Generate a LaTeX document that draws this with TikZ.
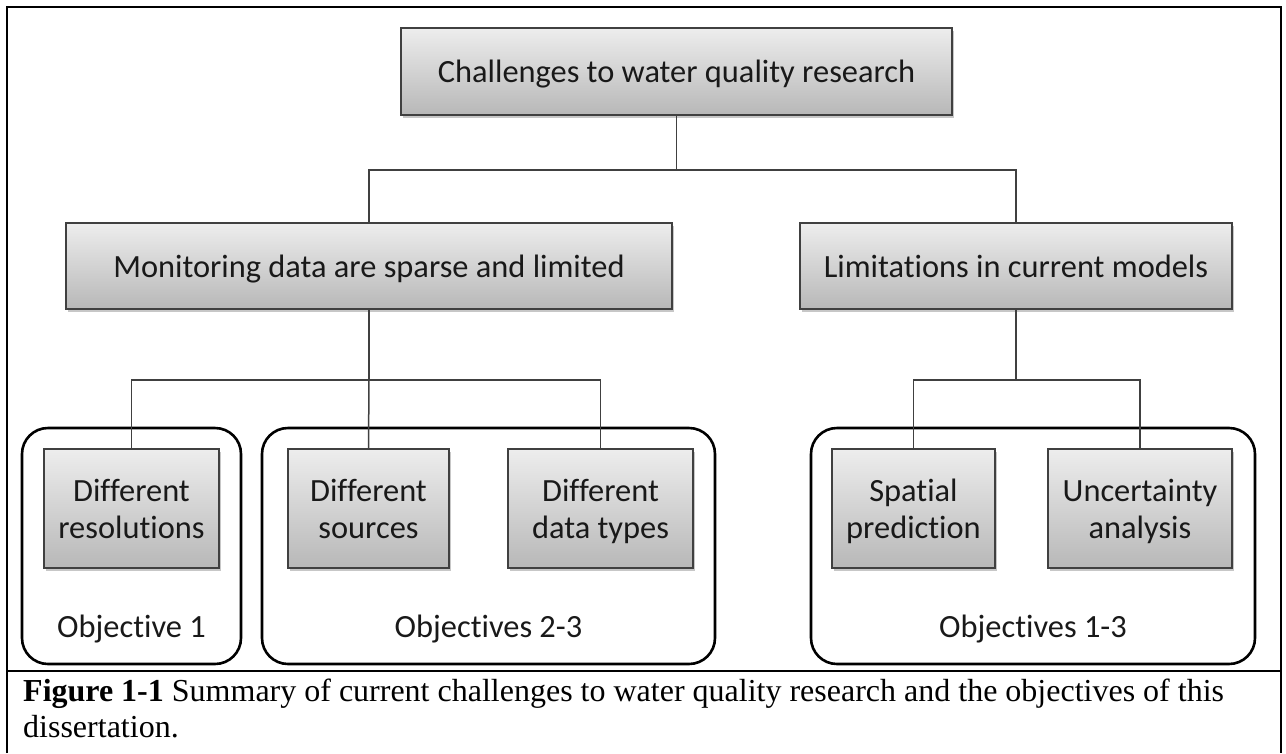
\documentclass[tikz,border=0pt]{standalone}
\usepackage{fontspec}
\setmainfont{Carlito}[Ligatures=NoCommon]
\newfontfamily\capfont{Liberation Serif}
\usetikzlibrary{shadows}
% strut that fixes every text line to the same height, depth and spacing
\newcommand{\lnstrut}{\rule[-7.5pt]{0pt}{37pt}}
\begin{document}
\begin{tikzpicture}[x=1pt,y=-1pt,
  lbl/.style={font=\fontsize{32.4}{37}\selectfont, text=black!90, inner sep=0pt},
  itembox/.style={lbl, draw=black!75, line width=1.5pt,
    top color=black!7, bottom color=black!28, align=center,
    drop shadow={opacity=0.22, shadow xshift=1.5pt, shadow yshift=-3pt, fill=black}},
  groupbox/.style={draw=black, line width=2.6pt, rounded corners=26pt},
  link/.style={draw=black!75, line width=1.5pt},
  frame/.style={draw=black, line width=2.8pt},
  captxt/.style={anchor=base west, inner sep=0pt, font=\capfont\fontsize{32}{36}\selectfont}]
\useasboundingbox (0,0) rectangle (1286,753);

% outer frame and caption rule
\draw[frame] (7,753) -- (7,7) -- (1281,7) -- (1281,753);
\draw[frame, line width=2.4pt] (7,671) -- (1281,671);

% objective groups
\draw[groupbox] (22,428) rectangle (241,664);
\draw[groupbox] (262,428) rectangle (715,664);
\draw[groupbox] (811,428) rectangle (1255,664);
\node[lbl] (o1)  at (131.5,626) {\lnstrut Objective 1};
\node[lbl] (o23) at (488.5,626) {\lnstrut Objectives 2-3};
\node[lbl] (o13) at (1033,626)  {\lnstrut Objectives 1-3};

% boxes
\node[itembox, minimum width=551pt, minimum height=87pt] (top) at (676.5,71.5) {\lnstrut Challenges to water quality research};
\node[itembox, minimum width=606pt, minimum height=86pt] (mon) at (369,266) {\lnstrut Monitoring data are sparse and limited};
\node[itembox, minimum width=432pt, minimum height=86pt] (lim) at (1016,266) {\lnstrut Limitations in current models};
\node[itembox, minimum width=175pt, minimum height=119pt] (res) at (131.5,508.5) {\lnstrut Different\\\lnstrut resolutions};
\node[itembox, minimum width=161pt, minimum height=119pt] (src) at (368.5,508.5) {\lnstrut Different\\\lnstrut sources};
\node[itembox, minimum width=185pt, minimum height=119pt] (typ) at (600.5,508.5) {\lnstrut Different\\\lnstrut data types};
\node[itembox, minimum width=163pt, minimum height=119pt] (spa) at (913.5,508.5) {\lnstrut Spatial\\\lnstrut prediction};
\node[itembox, minimum width=184pt, minimum height=119pt] (unc) at (1140,508.5) {\lnstrut Uncertainty\\\lnstrut analysis};

% tree connectors
\draw[link] (top.south) -- +(0,54) coordinate (j1);
\draw[link] (j1) -| (mon.north);
\draw[link] (j1) -| (lim.north);
\draw[link] (mon.south) -- +(0,70) coordinate (j2);
\draw[link] (j2) -| (res.north);
\draw[link] (j2) -| (typ.north);
\draw[link] (j2) -- (src.north);
\draw[link] (lim.south) -- +(0,70) coordinate (j3);
\draw[link] (j3) -| (spa.north);
\draw[link] (j3) -| (unc.north);

% caption
\node[captxt] (cap1) at (23,701)
  {\textbf{Figure 1-1} Summary of current challenges to water quality research and the objectives of this};
\node[captxt] (cap2) at (23,737) {dissertation.};
\end{tikzpicture}
\end{document}
